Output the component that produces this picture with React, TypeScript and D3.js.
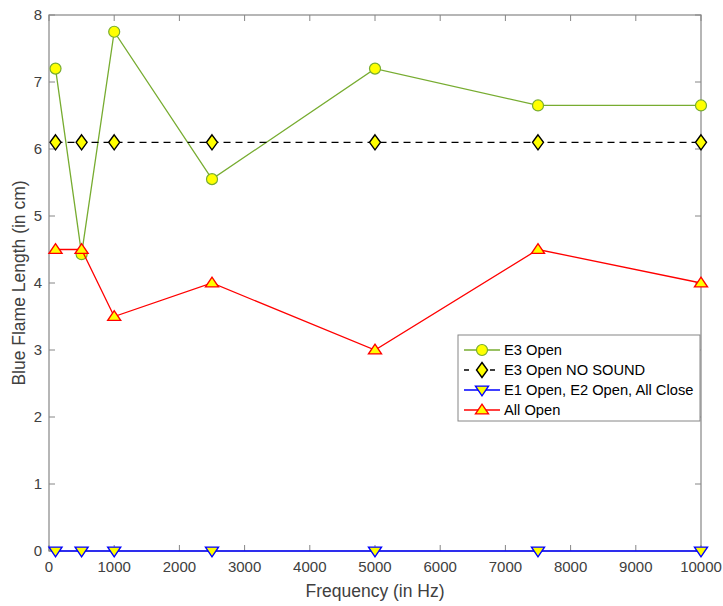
import React from "react";
import * as d3 from "d3";

const freqs = [100, 500, 1000, 2500, 5000, 7500, 10000];
const e3Open = [7.2, 4.43, 7.75, 5.55, 7.2, 6.65, 6.65];
const e3NoSound = [6.1, 6.1, 6.1, 6.1, 6.1, 6.1, 6.1];
const e1Closed = [0, 0, 0, 0, 0, 0, 0];
const allOpen = [4.5, 4.5, 3.5, 4.0, 3.0, 4.5, 4.0];
const xTicks = [0, 1000, 2000, 3000, 4000, 5000, 6000, 7000, 8000, 9000, 10000];
const yTicks = [0, 1, 2, 3, 4, 5, 6, 7, 8];
const seriesNames = ["E3 Open", "E3 Open NO SOUND", "E1 Open, E2 Open, All Close", "All Open"];

const W = 723, H = 606;
const L = 49, R = 701, T = 15, B = 551;
const FONT = "'Liberation Sans', Arial, Helvetica, sans-serif";
const TXT = "#404040";
const AX = "#868686";

type Marker = "circle" | "diamond" | "down" | "up";

function markerPath(m: Marker, x: number, y: number): string {
  if (m === "diamond") {
    const a = 5.5, b = 7.5;
    return `M${x},${y - b}L${x + a},${y}L${x},${y + b}L${x - a},${y}Z`;
  }
  if (m === "down") {
    const s = 6.5;
    return `M${x - s},${y - s * 0.6}L${x + s},${y - s * 0.6}L${x},${y + s * 0.9}Z`;
  }
  if (m === "up") {
    const s = 6.5;
    return `M${x - s},${y + s * 0.6}L${x + s},${y + s * 0.6}L${x},${y - s * 0.9}Z`;
  }
  return "";
}

function MarkerShape({ m, x, y, stroke }: { m: Marker; x: number; y: number; stroke: string }) {
  if (m === "circle") {
    return <circle cx={x} cy={y} r={5.5} fill="#ffff00" stroke={stroke} strokeWidth={1.2} />;
  }
  return <path d={markerPath(m, x, y)} fill="#ffff00" stroke={stroke} strokeWidth={1.4} strokeLinejoin="miter" />;
}

export default function App() {
  const x = d3.scaleLinear().domain([0, 10000]).range([L, R]);
  const y = d3.scaleLinear().domain([0, 8]).range([B, T]);

  const series = [
    { name: seriesNames[0], vals: e3Open, color: "#77ac30", markerStroke: "#77ac30", dash: "", m: "circle" as Marker },
    { name: seriesNames[1], vals: e3NoSound, color: "#000000", markerStroke: "#000000", dash: "7,5", m: "diamond" as Marker },
    { name: seriesNames[2], vals: e1Closed, color: "#0000ff", markerStroke: "#0000ff", dash: "", m: "down" as Marker },
    { name: seriesNames[3], vals: allOpen, color: "#ff0000", markerStroke: "#ff0000", dash: "", m: "up" as Marker },
  ];

  const line = d3
    .line<number>()
    .x((_, i) => x(freqs[i]))
    .y((d) => y(d));

  const legX = 458, legY = 335, legW = 242, legH = 86;

  return (
    <svg width={W} height={H} style={{ position: "absolute", left: 0, top: 0, background: "#fff" }} fontFamily={FONT}>
      <rect x={0} y={0} width={W} height={H} fill="#fff" />
      <rect x={L} y={T} width={R - L} height={B - T} fill="none" stroke={AX} strokeWidth={1.2} />
      {xTicks.map((t) => (
        <g key={"xt" + t}>
          <line x1={x(t)} x2={x(t)} y1={B} y2={B - 6} stroke={AX} />
          <line x1={x(t)} x2={x(t)} y1={T} y2={T + 6} stroke={AX} />
          <text x={x(t)} y={B + 21} textAnchor="middle" fontSize={15} fill={TXT}>
            {t}
          </text>
        </g>
      ))}
      {yTicks.map((t) => (
        <g key={"yt" + t}>
          <line x1={L} x2={L + 6} y1={y(t)} y2={y(t)} stroke={AX} />
          <line x1={R} x2={R - 6} y1={y(t)} y2={y(t)} stroke={AX} />
          <text x={L - 7} y={y(t) + 5} textAnchor="end" fontSize={15} fill={TXT}>
            {t}
          </text>
        </g>
      ))}
      <text x={(L + R) / 2} y={597} textAnchor="middle" fontSize={17.5} fill={TXT}>
        Frequency (in Hz)
      </text>
      <text
        transform={`translate(25,${(T + B) / 2}) rotate(-90)`}
        textAnchor="middle"
        fontSize={17.5}
        fill={TXT}
      >
        Blue Flame Length (in cm)
      </text>
      {series.map((s) => (
        <g key={s.name}>
          <path d={line(s.vals) || ""} fill="none" stroke={s.color} strokeWidth={1.3} strokeDasharray={s.dash || undefined} />
          {s.vals.map((v, i) => (
            <MarkerShape key={i} m={s.m} x={x(freqs[i])} y={y(v)} stroke={s.markerStroke} />
          ))}
        </g>
      ))}
      <rect x={legX} y={legY} width={legW} height={legH} fill="#fff" stroke={AX} strokeWidth={1} />
      {series.map((s, i) => {
        const ry = legY + 15 + i * 20;
        return (
          <g key={"leg" + i}>
            <line x1={464} x2={500} y1={ry} y2={ry} stroke={s.color} strokeWidth={1.3} strokeDasharray={s.dash ? "5,8" : undefined} />
            <MarkerShape m={s.m} x={482} y={ry} stroke={s.markerStroke} />
            <text x={504} y={ry + 5} fontSize={14.7} fill="#000">
              {s.name}
            </text>
          </g>
        );
      })}
    </svg>
  );
}
